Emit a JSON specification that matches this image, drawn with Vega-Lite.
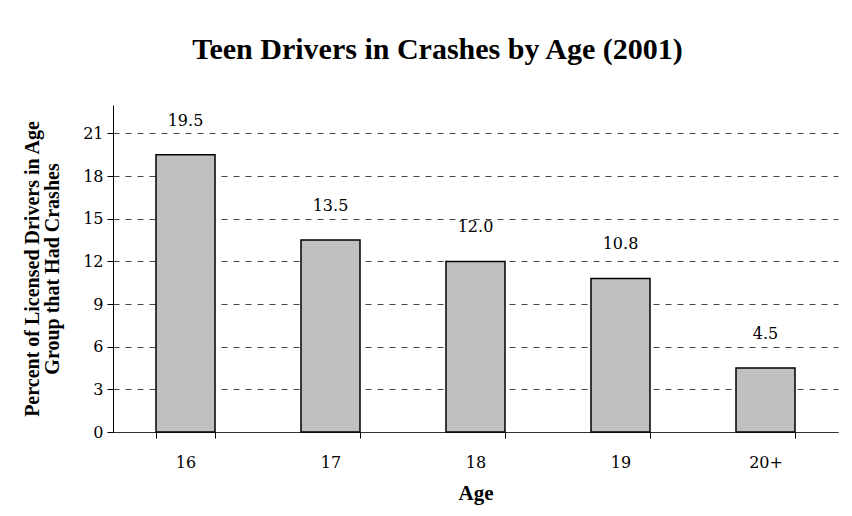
{
  "$schema": "https://vega.github.io/schema/vega-lite/v6.json",
  "width": 725,
  "height": 327,
  "autosize": "none",
  "padding": {"left": 113, "top": 105, "right": 14, "bottom": 84},
  "background": "white",
  "title": {
    "text": "Teen Drivers in Crashes by Age (2001)",
    "font": "Liberation Serif",
    "fontSize": 30,
    "fontWeight": "bold",
    "color": "black",
    "anchor": "middle",
    "dx": -38,
    "baseline": "alphabetic",
    "offset": 16
  },
  "data": {
    "values": [
      {"age": "16", "pct": 19.5},
      {"age": "17", "pct": 13.5},
      {"age": "18", "pct": 12.0},
      {"age": "19", "pct": 10.8},
      {"age": "20+", "pct": 4.5}
    ]
  },
  "encoding": {
    "x": {
      "field": "age",
      "type": "nominal",
      "sort": null,
      "scale": {"paddingInner": 0.593, "paddingOuter": 0.2965},
      "axis": {
        "title": "Age",
        "titleFont": "Liberation Serif",
        "titleFontSize": 21,
        "titleFontWeight": "bold",
        "titleColor": "black",
        "titlePadding": 12,
        "labelFont": "DejaVu Serif",
        "labelFontSize": 16,
        "labelColor": "black",
        "labelAngle": 0,
        "labelPadding": 16,
        "tickBand": "extent",
        "tickSize": 6,
        "tickColor": "black",
        "domainColor": "#333",
        "grid": false
      }
    },
    "y": {
      "field": "pct",
      "type": "quantitative",
      "scale": {"domain": [0, 23], "nice": false},
      "axis": {
        "values": [0, 3, 6, 9, 12, 15, 18, 21],
        "title": ["Percent of Licensed Drivers in Age", "Group that Had Crashes"],
        "titleFont": "Liberation Serif",
        "titleFontSize": 20,
        "titleFontWeight": "bold",
        "titleColor": "black",
        "titleLineHeight": 20,
        "titlePadding": 20,
        "labelFont": "DejaVu Serif",
        "labelFontSize": 16,
        "labelColor": "black",
        "labelPadding": 4,
        "tickSize": 6,
        "tickColor": "black",
        "domainColor": "black",
        "grid": true,
        "gridColor": "#444",
        "gridDash": [6, 6],
        "gridWidth": 1
      }
    }
  },
  "layer": [
    {
      "mark": {"type": "bar", "fill": "#C0C0C0", "stroke": "black", "strokeWidth": 1.5}
    },
    {
      "mark": {"type": "text", "font": "DejaVu Serif", "fontSize": 16, "color": "black", "baseline": "middle", "dy": -34},
      "encoding": {
        "text": {"field": "pct", "type": "quantitative", "format": ".1f"}
      }
    }
  ],
  "config": {"view": {"stroke": null}}
}
